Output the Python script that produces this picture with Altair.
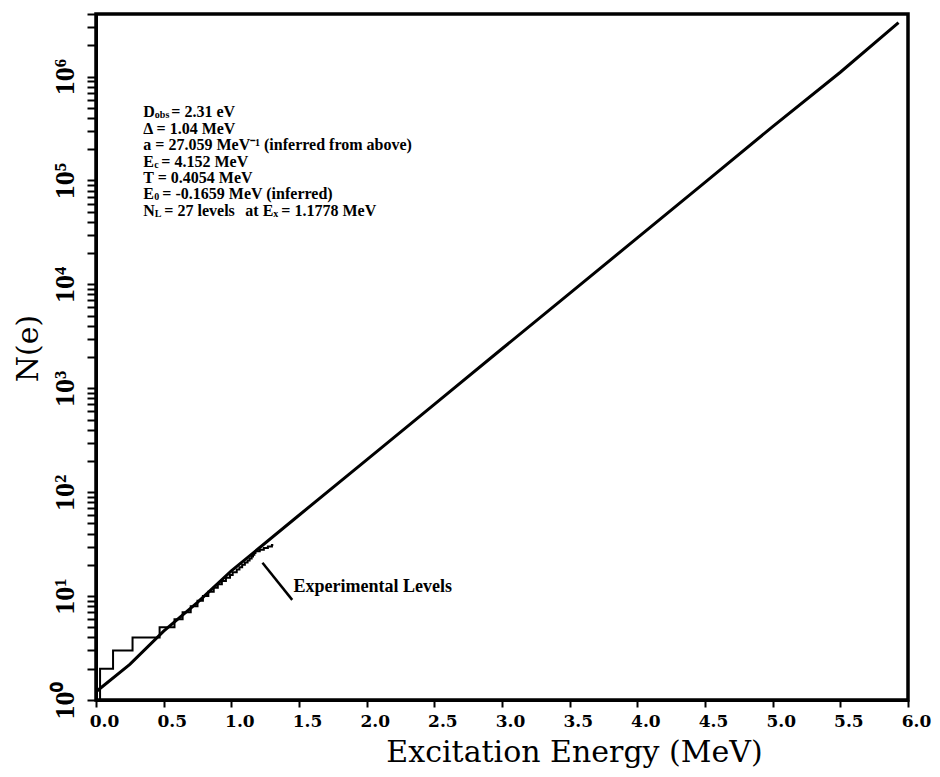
import altair as alt
import pandas as pd

# ---- data ----
# theoretical level density curve (energy in MeV, cumulative N)
curve_E = [0.0, 0.25, 0.5, 0.75, 1.0, 1.5, 2.0, 2.5, 3.0, 3.5, 4.0, 4.5, 5.0, 5.5, 5.93]
curve_N = [1.2, 2.2, 4.6, 8.7, 17.5, 60, 205, 700, 2400, 8200, 2.8e4, 9.6e4, 3.3e5, 1.1e6, 3.3e6]

# experimental levels staircase (energy where cumulative count reaches N)
lev_E = [0.0, 0.03, 0.126, 0.27, 0.47, 0.58, 0.64, 0.70, 0.75, 0.79, 0.83, 0.87, 0.90,
         0.93, 0.96, 0.99, 1.01, 1.04, 1.06, 1.08, 1.10, 1.12, 1.135, 1.15, 1.16, 1.17,
         1.178, 1.21, 1.24, 1.27, 1.30, 1.31]
lev_N = [1, 2, 3, 4, 5, 6, 7, 8, 9, 10, 11, 12, 13, 14, 15, 16, 17, 18, 19, 20, 21, 22,
         23, 24, 25, 26, 27, 28, 29, 30, 31, 31]

x_ticks = [0.0, 0.5, 1.0, 1.5, 2.0, 2.5, 3.0, 3.5, 4.0, 4.5, 5.0, 5.5, 6.0]
y_ticks = [m * 10 ** k for k in range(0, 7) for m in range(1, 10) if m * 10 ** k <= 4e6]

ann_E0 = 0.35
ann_N = [4.56e5, 3.16e5, 2.2e5, 1.52e5, 1.06e5, 7.33e4, 5.08e4]

pointer_E = [1.23, 1.45]
pointer_N = [20.9, 9.2]
exp_label_E = 1.46
exp_label_N = 12.3

X = alt.X("E:Q", scale=alt.Scale(domain=[0, 6], nice=False, zero=False),
          axis=alt.Axis(values=x_ticks, format=".1f", title="Excitation Energy (MeV)",
                        grid=False, domainColor="black", domainWidth=3,
                        tickColor="black", tickWidth=2, tickSize=7,
                        labelFont="DejaVu Serif", labelFontWeight="bold", labelFontSize=17,
                        labelColor="black", labelPadding=6, labelOffset=8,
                        labelOverlap=False, labelFlush=False,
                        titleFont="DejaVu Serif", titleFontWeight="normal", titleFontSize=30,
                        titleColor="black", titleX=478, titleY=61, titleAlign="center",
                        titleBaseline="alphabetic"))
Y = alt.Y("N:Q", scale=alt.Scale(type="log", domain=[1, 4e6], nice=False),
          axis=alt.Axis(values=y_ticks, title="N(e)",
                        labelExpr="abs(log(datum.value)/LN10 - round(log(datum.value)/LN10)) < 1e-6 ? ['10⁰','10¹','10²','10³','10⁴','10⁵','10⁶'][round(log(datum.value)/LN10)] : ''",
                        grid=False, domainColor="black", domainWidth=3,
                        tickColor="black", tickWidth=2, tickSize=9,
                        labelFont="Liberation Serif", labelFontWeight="bold", labelFontSize=28,
                        labelColor="black", labelAngle=270, labelPadding=8,
                        labelOverlap=False, labelFlush=False,
                        titleFont="DejaVu Serif", titleFontWeight="normal", titleFontSize=30,
                        titleColor="black", titleAngle=270, titleX=-68, titleY=334,
                        titleAlign="center", titleBaseline="middle"))

curve_df = pd.DataFrame({"E": curve_E, "N": curve_N})
lev_df = pd.DataFrame({"E": lev_E, "N": lev_N})

curve = alt.Chart(curve_df).mark_line(color="black", strokeWidth=3).encode(x=X, y=Y)
stairs = alt.Chart(lev_df).mark_line(color="black", strokeWidth=2, interpolate="step-after").encode(
    x=alt.X("E:Q"), y=alt.Y("N:Q"))

ptr_df = pd.DataFrame({"E": [pointer_E[0]], "N": [pointer_N[0]], "E2": [pointer_E[1]], "N2": [pointer_N[1]]})
pointer = alt.Chart(ptr_df).mark_rule(color="black", strokeWidth=2.5).encode(
    x="E:Q", y="N:Q", x2="E2:Q", y2="N2:Q")

FONT = "Liberation Serif"
MAIN = 16
SUB = 10
SDY = 3


def seg(E, N, text, dx=0, size=MAIN, dy=0):
    d = pd.DataFrame({"E": [E], "N": [N], "t": [text]})
    return alt.Chart(d).mark_text(align="left", baseline="middle", font=FONT, fontWeight="bold",
                                  fontSize=size, dx=dx, dy=dy, color="black").encode(
        x="E:Q", y="N:Q", text="t:N")


segs = [
    seg(ann_E0, ann_N[0], "D"),
    seg(ann_E0, ann_N[0], "obs", dx=11.5, size=SUB, dy=SDY),
    seg(ann_E0, ann_N[0], "= 2.31 eV", dx=28),
    seg(ann_E0, ann_N[1], "\u0394 = 1.04 MeV"),
    seg(ann_E0, ann_N[2], "a = 27.059 MeV\u207b\u00b9 (inferred from above)"),
    seg(ann_E0, ann_N[3], "E"),
    seg(ann_E0, ann_N[3], "c", dx=11, size=SUB, dy=SDY),
    seg(ann_E0, ann_N[3], "= 4.152 MeV", dx=18),
    seg(ann_E0, ann_N[4], "T = 0.4054 MeV"),
    seg(ann_E0, ann_N[5], "E"),
    seg(ann_E0, ann_N[5], "0", dx=11, size=SUB, dy=SDY),
    seg(ann_E0, ann_N[5], "= -0.1659 MeV (inferred)", dx=19),
    seg(ann_E0, ann_N[6], "N"),
    seg(ann_E0, ann_N[6], "L", dx=11.5, size=SUB, dy=SDY),
    seg(ann_E0, ann_N[6], "= 27 levels", dx=21),
    seg(ann_E0, ann_N[6], "at E", dx=102),
    seg(ann_E0, ann_N[6], "x", dx=130, size=SUB, dy=SDY),
    seg(ann_E0, ann_N[6], "= 1.1778 MeV", dx=138),
    seg(exp_label_E, exp_label_N, "Experimental Levels", size=18),
]

chart = alt.layer(curve, stairs, pointer, *segs).properties(
    width=812, height=686,
    autosize=alt.AutoSizeParams(type="none"),
    padding={"left": 88, "top": 6, "right": 24, "bottom": 76},
).configure(background="white").configure_view(stroke="black", strokeWidth=3.5)

chart.save("out.html", embed_options={"renderer": "svg", "actions": False})
